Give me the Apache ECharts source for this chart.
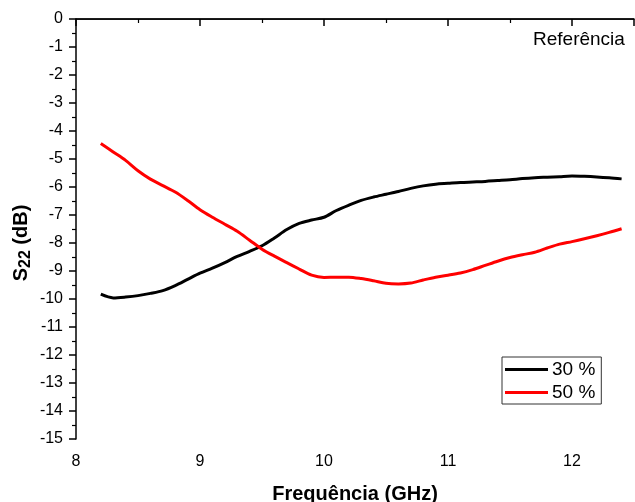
<!DOCTYPE html>
<html>
<head>
<meta charset="utf-8">
<script src="https://cdn.jsdelivr.net/npm/echarts@6/dist/echarts.min.js"></script>
<style>
  html, body { margin: 0; padding: 0; background: #fff; }
  #main { width: 635px; height: 502px; }
</style>
</head>
<body>
<div id="main"></div>
<script>
// frequency (GHz)
var freq = [8.2, 8.3, 8.4, 8.5, 8.6, 8.7, 8.8, 8.9, 9.0, 9.1, 9.2, 9.3, 9.4, 9.5, 9.6,
            9.7, 9.8, 9.9, 10.0, 10.1, 10.2, 10.3, 10.4, 10.5, 10.6, 10.7, 10.8, 10.9,
            11.0, 11.1, 11.2, 11.3, 11.4, 11.5, 11.6, 11.7, 11.8, 11.9, 12.0, 12.1, 12.2, 12.3, 12.4];
// S22 (dB), 30 %
var s30 = [-9.83, -9.96, -9.93, -9.88, -9.80, -9.70, -9.52, -9.30, -9.08, -8.90, -8.70, -8.48, -8.30, -8.10, -7.82,
           -7.52, -7.30, -7.18, -7.08, -6.84, -6.65, -6.48, -6.36, -6.26, -6.16, -6.05, -5.96, -5.90,
           -5.87, -5.84, -5.82, -5.80, -5.77, -5.74, -5.70, -5.67, -5.65, -5.63, -5.61, -5.62, -5.64, -5.67, -5.71];
// S22 (dB), 50 %
var s50 = [-4.45, -4.75, -5.05, -5.42, -5.72, -5.95, -6.18, -6.48, -6.81, -7.08, -7.33, -7.58, -7.90, -8.22, -8.47,
           -8.70, -8.93, -9.15, -9.23, -9.22, -9.22, -9.27, -9.35, -9.44, -9.46, -9.43, -9.32, -9.22,
           -9.15, -9.07, -8.95, -8.80, -8.65, -8.52, -8.42, -8.33, -8.18, -8.04, -7.95, -7.85, -7.74, -7.62, -7.49];

function pairs(ys){
  var out = [];
  for (var i = 0; i < freq.length; i++) out.push([freq[i], ys[i]]);
  return out;
}

var myChart = echarts.init(document.getElementById('main'));
var font = 'Arial, "Liberation Sans", sans-serif';
var option = {
  animation: false,
  grid: { left: 76, top: 19, right: 1, bottom: 63, outerBoundsMode: 'none', containLabel: false },
  legend: {
    left: 502, top: 357,
    orient: 'vertical',
    itemWidth: 43, itemHeight: 3, itemGap: 4,
    borderColor: '#333', borderWidth: 1, borderRadius: 0,
    padding: [3, 6, 2, 3],
    textStyle: { fontFamily: font, fontSize: 19, color: '#000', padding: [0, 0, 0, -1] },
    data: [
      { name: '30 %', icon: 'rect', itemStyle: { color: '#000' } },
      { name: '50 %', icon: 'rect', itemStyle: { color: '#ff0000' } }
    ]
  },
  graphic: [
    { type: 'text', left: 533, top: 30,
      style: { text: 'Referência', font: '19px ' + font, fill: '#000' } },
    { type: 'text', x: 21, y: 243, rotation: Math.PI / 2,
      style: {
        text: '{b|S}{s|22}{b| (dB)}', align: 'center', verticalAlign: 'middle',
        rich: {
          b: { fontFamily: font, fontWeight: 'bold', fontSize: 20, color: '#000' },
          s: { fontFamily: font, fontWeight: 'bold', fontSize: 16, color: '#000', padding: [10, 0, 0, 0] }
        }
      } }
  ],
  xAxis: {
    type: 'value', min: 8, max: 12.5, interval: 1,
    name: 'Frequência (GHz)', nameLocation: 'middle', nameGap: 45,
    nameTextStyle: { fontFamily: font, fontWeight: 'bold', fontSize: 20, color: '#000' },
    axisLine: { lineStyle: { color: '#000', width: 1.5 } },
    axisTick: { length: 7, lineStyle: { color: '#000', width: 1.5 } },
    minorTick: { show: true, splitNumber: 2, length: 4, lineStyle: { color: '#000', width: 1.2 } },
    axisLabel: { fontFamily: font, fontSize: 16, color: '#000', margin: 15,
                 formatter: function (v) { return v === 12.5 ? '' : v; } },
    splitLine: { show: false }
  },
  yAxis: {
    type: 'value', min: -15, max: 0, interval: 1,
    axisLine: { onZero: false, lineStyle: { color: '#000', width: 1.5 } },
    axisTick: { length: 7, lineStyle: { color: '#000', width: 1.5 } },
    minorTick: { show: true, splitNumber: 2, length: 4, lineStyle: { color: '#000', width: 1.2 } },
    axisLabel: { fontFamily: font, fontSize: 16, color: '#000', margin: 13 },
    splitLine: { show: false }
  },
  series: [
    { name: '30 %', type: 'line', data: pairs(s30), showSymbol: false, smooth: 0.3,
      lineStyle: { color: '#000', width: 3 }, itemStyle: { color: '#000' } },
    { name: '50 %', type: 'line', data: pairs(s50), showSymbol: false, smooth: 0.3,
      lineStyle: { color: '#ff0000', width: 3 }, itemStyle: { color: '#ff0000' } },
    // top frame line
    { type: 'line', data: [[8, 0], [12.5, 0]], showSymbol: false, silent: true,
      lineStyle: { color: '#000', width: 1.5 }, tooltip: { show: false } }
  ]
};
myChart.setOption(option);
</script>
</body>
</html>
